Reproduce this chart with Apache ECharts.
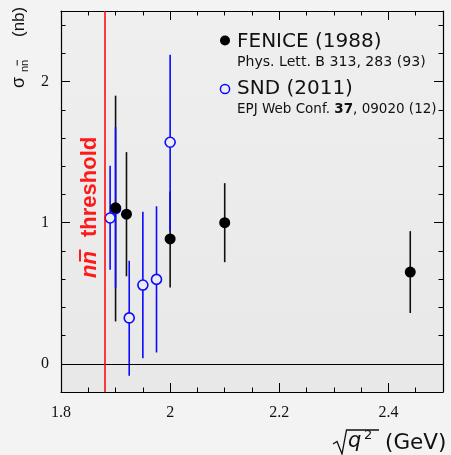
<!DOCTYPE html>
<html><head><meta charset="utf-8">
<script src="https://cdn.jsdelivr.net/npm/echarts@6/dist/echarts.min.js"></script>
<style>html,body{margin:0;padding:0;background:#f3f3f3}#c{width:451px;height:455px}</style>
</head><body><div id="c"></div>
<script>
// FENICE (1988)
const fenX  = [1.90, 1.92, 2.00, 2.10, 2.44];
const fenY  = [1.105, 1.06, 0.885, 1.00, 0.65];
const fenLo = [0.30, 0.62, 0.54, 0.72, 0.36];
const fenHi = [1.90, 1.50, 1.22, 1.28, 0.94];
// SND (2011)
const sndX  = [1.89, 1.90, 1.925, 1.95, 1.975, 2.00];
const sndY  = [1.033, 1.10, 0.325, 0.558, 0.598, 1.57];
const sndLo = [0.667, 0.537, -0.085, 0.04, 0.08, 0.94];
const sndHi = [1.404, 1.676, 0.73, 1.078, 1.116, 2.19];
// ticks
const xMajor = [1.8, 2.0, 2.2, 2.4];
const xMinor = [1.85, 1.9, 1.95, 2.05, 2.1, 2.15, 2.25, 2.3, 2.35, 2.45];
const yMajor = [0, 1, 2];
const yMinor = [0.2, 0.4, 0.6, 0.8, 1.2, 1.4, 1.6, 1.8, 2.2, 2.4];
const threshold = 1.8791;

const SANS = '"DejaVu Sans", sans-serif';
const LIB = '"Liberation Sans", Arial, Helvetica, sans-serif';
const SERIF = '"Liberation Serif", "Times New Roman", serif';

function xAx(pos, vals, len, major) {
  return {
    type: 'value', position: pos, min: 1.8, max: 2.5,
    axisLine: { show: major, onZero: false, lineStyle: { color: '#000', width: 1.2 } },
    axisTick: { show: true, inside: true, length: len, customValues: vals, lineStyle: { color: '#000', width: 1 } },
    axisLabel: (major && pos === 'bottom') ? { show: true, customValues: vals, margin: 13, color: '#111', fontFamily: SERIF, fontSize: 16 } : { show: false },
    splitLine: { show: false }
  };
}
function yAx(pos, vals, len, major) {
  return {
    type: 'value', position: pos, min: -0.2, max: 2.5,
    axisLine: { show: major, onZero: false, lineStyle: { color: '#000', width: 1.2 } },
    axisTick: { show: true, inside: true, length: len, customValues: vals, lineStyle: { color: '#000', width: 1 } },
    axisLabel: (major && pos === 'left') ? { show: true, customValues: vals, margin: 12, color: '#111', fontFamily: SERIF, fontSize: 16 } : { show: false },
    splitLine: { show: false }
  };
}

function errSeries(xs, los, his, color, z) {
  return {
    type: 'custom', z: z, silent: true, xAxisIndex: 0, yAxisIndex: 0,
    data: xs.map((x, i) => [x, los[i], his[i]]),
    renderItem: function (params, api) {
      const a = api.coord([api.value(0), api.value(1)]);
      const b = api.coord([api.value(0), api.value(2)]);
      return { type: 'line', shape: { x1: a[0], y1: a[1], x2: b[0], y2: b[1] },
               style: { stroke: color, lineWidth: 1.6 } };
    }
  };
}

function txt(x, y, text, font, fill, extra) {
  return Object.assign({ type: 'text', x: x, y: y, z: 10,
    style: Object.assign({ text: text, font: font, fill: fill || '#111', align: 'left', verticalAlign: 'middle' }, extra || {}) });
}

const chart = echarts.init(document.getElementById('c'), null, { renderer: 'canvas' });
chart.setOption({
  animation: false,
  backgroundColor: '#f3f3f3',
  grid: { left: 61, right: 8, top: 11, bottom: 63, show: true, borderWidth: 0,
          outerBoundsMode: 'none',
          backgroundColor: new echarts.graphic.LinearGradient(0, 0, 0, 1, [
            { offset: 0, color: '#efefef' }, { offset: 1, color: '#e8e8e8' }]) },
  xAxis: [xAx('bottom', xMajor, 9, true), xAx('bottom', xMinor, 4.5, false),
          xAx('top', xMajor, 9, true), xAx('top', xMinor, 4.5, false)],
  yAxis: [yAx('left', yMajor, 9, true), yAx('left', yMinor, 4.5, false),
          yAx('right', yMajor, 9, true), yAx('right', yMinor, 4.5, false)],
  series: [
    errSeries(fenX, fenLo, fenHi, '#111111', 2),
    errSeries(sndX, sndLo, sndHi, '#0a0aff', 3),
    {
      type: 'scatter', z: 4, silent: true, xAxisIndex: 0, yAxisIndex: 0,
      data: sndX.map((x, i) => [x, sndY[i]]),
      symbol: 'circle', symbolSize: 10,
      itemStyle: { color: '#ececec', borderColor: '#0a0aff', borderWidth: 1.6, opacity: 1 },
      markLine: {
        silent: true, symbol: 'none', label: { show: false },
        data: [
          { yAxis: 0, lineStyle: { color: '#000', width: 1, type: 'solid' } },
          { xAxis: threshold, lineStyle: { color: '#ff0000', width: 1.5, type: 'solid' } }
        ]
      }
    },
    {
      type: 'scatter', z: 5, silent: true, xAxisIndex: 0, yAxisIndex: 0,
      data: fenX.map((x, i) => [x, fenY[i]]),
      symbol: 'circle', symbolSize: 11,
      itemStyle: { color: '#000', opacity: 1 }
    }
  ],
  graphic: [
    // legend
    { type: 'circle', shape: { cx: 225, cy: 40.5, r: 5 }, style: { fill: '#000' }, z: 10 },
    txt(237, 41.5, 'FENICE (1988)', '20px ' + SANS),
    txt(237, 62, 'Phys. Lett. B 313, 283 (93)', '14.1px ' + SANS),
    { type: 'circle', shape: { cx: 225, cy: 89, r: 4.6 }, style: { fill: 'none', stroke: '#0a0aff', lineWidth: 1.5 }, z: 10 },
    txt(237, 89, 'SND (2011)', '20px ' + SANS),
    txt(237, 109, 'EPJ Web Conf. {b|37}, 09020 (12)', '13.5px ' + SANS, '#111',
        { rich: { b: { fontWeight: 'bold', fontSize: 13.5, fontFamily: 'DejaVu Sans', fill: '#111' } } }),
    // threshold label (rotated, reading bottom-to-top); local y=0 is the baseline
    { type: 'group', x: 98, y: 278, rotation: Math.PI / 2, z: 10, children: [
      { type: 'text', x: 0, y: -7.7, style: { text: 'nn', font: 'italic bold 22px ' + LIB, fill: '#ff1a1a', verticalAlign: 'middle', align: 'left' } },
      { type: 'line', shape: { x1: 16.5, y1: -18, x2: 28.5, y2: -18 }, style: { stroke: '#ff1a1a', lineWidth: 2 } },
      { type: 'text', x: 41, y: -7.7, style: { text: 'threshold', font: 'bold 22px ' + LIB, fill: '#ff1a1a', verticalAlign: 'middle', align: 'left' } }
    ] },
    // y title (rotated)
    { type: 'group', x: 26, y: 88, rotation: Math.PI / 2, z: 10, children: [
      { type: 'text', x: 0, y: -6.5, style: { text: '\u03c3', font: '18px ' + LIB, fill: '#111', verticalAlign: 'middle', align: 'left' } },
      { type: 'text', x: 16, y: -1.5, style: { text: 'nn', font: '11px ' + LIB, fill: '#111', verticalAlign: 'middle', align: 'left' } },
      { type: 'line', shape: { x1: 22.4, y1: -8.8, x2: 28, y2: -8.8 }, style: { stroke: '#111', lineWidth: 1 } },
      { type: 'text', x: 51, y: -6.2, style: { text: '(nb)', font: '17px ' + LIB, fill: '#111', verticalAlign: 'middle', align: 'left' } }
    ] },
    // x title
    { type: 'polyline', shape: { points: [[333, 444], [337, 441.5], [342, 454], [346.5, 430], [379, 430]] }, style: { stroke: '#111', lineWidth: 1.3, fill: null }, z: 10 },
    txt(348, 442, 'q', 'italic 21px ' + SANS),
    txt(364, 436, '2', '13px ' + SANS),
    txt(385, 443, '(GeV)', '21.5px ' + SANS)
  ]
});
</script>
</body></html>
